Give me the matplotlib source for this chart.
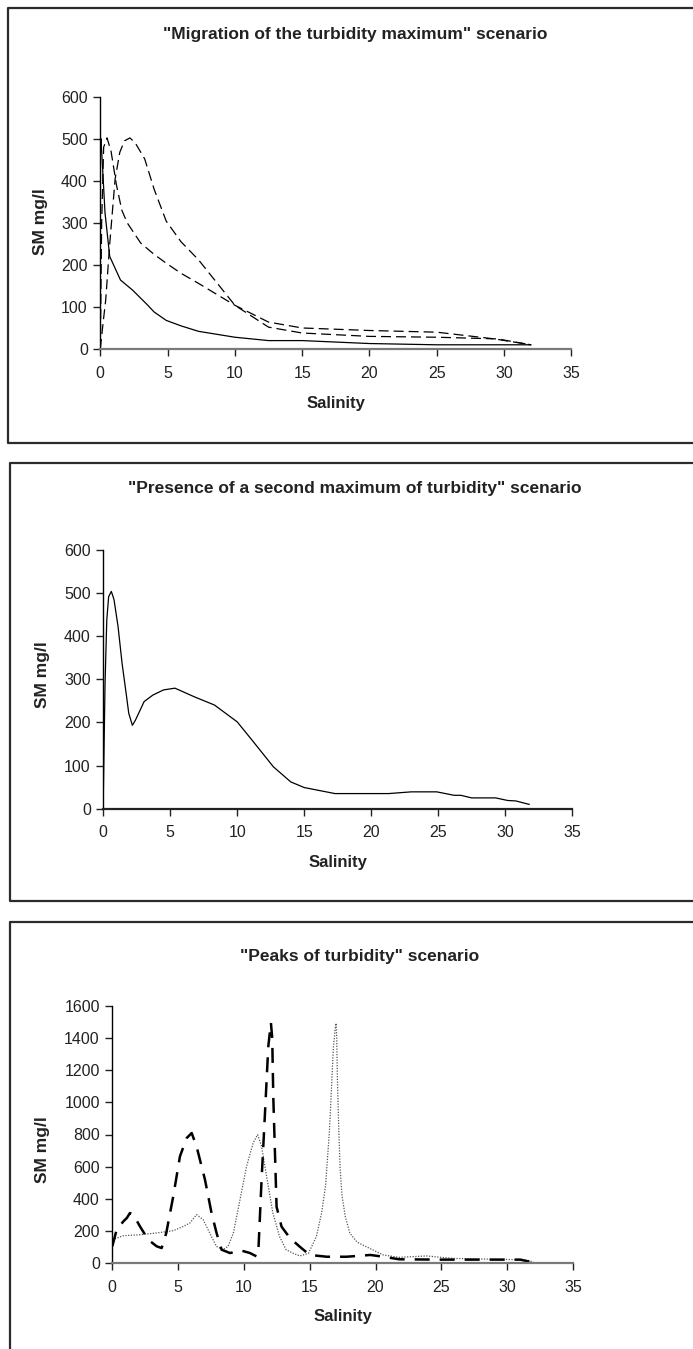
import matplotlib
matplotlib.use("Agg")
import matplotlib.pyplot as plt
from matplotlib.lines import Line2D

plt.rcParams['font.family'] = ['Liberation Sans Narrow', 'Liberation Sans', 'DejaVu Sans']

# ---- Panel 1: migration of the turbidity maximum ----
p1_solid_x = [0, 0.05, 0.35, 0.7, 1.5, 2.4, 3.5, 4.0, 4.9, 6.0, 7.3, 10, 12.5, 15, 20, 25, 30, 32]
p1_solid_y = [480, 500, 324, 220, 164, 140, 105, 88, 68, 55, 42, 28, 20, 20, 13, 10, 10, 10]

p1_dash1_x = [0, 0.1, 0.25, 0.5, 0.8, 1.2, 1.6, 2.0, 3.0, 4.0, 4.9, 6.0, 7.3, 10, 12.5, 15, 20, 25, 29.3, 32]
p1_dash1_y = [0, 300, 480, 502, 470, 390, 330, 300, 252, 225, 204, 180, 156, 104, 64, 50, 44, 40, 24, 10]

p1_dash2_x = [0, 0.2, 0.4, 0.7, 1.1, 1.45, 1.8, 2.2, 2.6, 3.3, 4.0, 4.9, 6.0, 7.3, 10, 12.5, 15, 20, 25, 29.5, 32]
p1_dash2_y = [0, 60, 116, 250, 404, 468, 495, 502, 490, 452, 380, 304, 255, 212, 104, 52, 38, 30, 28, 24, 10]

# ---- Panel 2: presence of a second maximum of turbidity ----
p2_x = [0, 0.13, 0.26, 0.4, 0.6, 0.8, 1.1, 1.4, 1.74, 1.9, 2.17, 2.4, 3.05, 3.7, 4.5, 5.35, 6.8, 8.3,
        10, 11.1, 12.7, 14, 15, 17.3, 21.3, 23, 24.9, 26.2, 26.7, 27.5, 29.3, 30.2, 30.8, 31.8]
p2_y = [27, 290, 437, 491, 503, 484, 422, 337, 259, 221, 193, 205, 248, 263, 275, 279, 259, 240,
        201, 159, 97, 62, 49, 35, 35, 39, 39, 31, 31, 25, 25, 19, 18, 10]

# ---- Panel 3: peaks of turbidity ----
p3_dash_x = [0, 0.33, 0.84, 1.1, 1.34, 1.6, 2.1, 2.73, 3.37, 3.75, 4.1, 4.63, 5.14, 5.65, 6.03, 6.4,
             7.04, 7.54, 7.92, 8.3, 8.94, 9.82, 10.46, 10.96, 11.09, 11.34, 11.6, 11.85, 12.05,
             12.15, 12.23, 12.48, 12.86, 13.5, 14.25, 15.0, 16.3, 17.8, 19.6, 20.6, 21.8, 25, 31, 31.9]
p3_dash_y = [104, 207, 259, 280, 311, 301, 228, 145, 104, 93, 187, 415, 664, 778, 809, 726,
             519, 311, 187, 83, 62, 77, 62, 41, 62, 517, 934, 1347, 1496,
             1400, 1035, 350, 226, 155, 101, 50, 39, 39, 50, 39, 23, 21, 21, 4]

p3_dot_x = [0, 0.84, 2.1, 3.37, 4.63, 5.4, 5.9, 6.4, 6.9, 7.4, 7.9, 8.4, 8.8, 9.2, 9.7, 10.2, 10.7,
            11.04, 11.34, 11.72, 12.2, 12.7, 13.2, 13.75, 14.25, 14.9, 15.5, 15.9, 16.2, 16.5, 16.8,
            16.95, 17.0, 17.05, 17.1, 17.2, 17.3, 17.45, 17.7, 18.05, 18.6, 19.3, 20.6, 21.8, 23.9,
            25, 26, 30, 31.5, 32]
p3_dot_y = [145, 170, 176, 187, 201, 228, 249, 301, 270, 187, 104, 83, 104, 187, 394, 602, 747,
            799, 726, 540, 311, 166, 83, 60, 44, 60, 164, 311, 480, 828, 1347,
            1470, 1492, 1400, 1150, 850, 600, 420, 290, 185, 130, 101, 50, 35, 44,
            35, 28, 22, 18, 5]

titles = ['"Migration of the turbidity maximum" scenario',
          '"Presence of a second maximum of turbidity" scenario',
          '"Peaks of turbidity" scenario']
x_label = 'Salinity'
y_label = 'SM mg/l'
x_ticks = [0, 5, 10, 15, 20, 25, 30, 35]

W, H = 693, 1349
fig = plt.figure(figsize=(W / 100, H / 100), dpi=100)


def px_box(left, top, right, bottom):
    return [left / W, 1 - bottom / H, (right - left) / W, (bottom - top) / H]


def frame(left, top, right, bottom, draw_bottom=True):
    kw = dict(color='#2b2b2b', lw=1.6, transform=fig.transFigure)
    xs = [right / W, left / W, left / W]
    ys = [1 - top / H, 1 - top / H, 1 - bottom / H]
    if draw_bottom:
        xs.append(right / W)
        ys.append(1 - bottom / H)
    fig.add_artist(Line2D(xs, ys, **kw))


def style_axes(ax, ymax, ystep, xcolor):
    ax.set_xlim(0, 35)
    ax.set_ylim(0, ymax)
    ax.set_xticks(x_ticks)
    ax.set_yticks(range(0, ymax + 1, ystep))
    for s in ('top', 'right'):
        ax.spines[s].set_visible(False)
    ax.spines['left'].set_color('black')
    ax.spines['left'].set_linewidth(1.0)
    ax.spines['bottom'].set_color(xcolor)
    ax.spines['bottom'].set_linewidth(1.6)
    ax.tick_params(axis='both', direction='out', length=5, width=1.0, colors='#222222',
                   labelsize=11.5, pad=4)
    ax.tick_params(axis='x', pad=7)
    ax.patch.set_visible(False)


# Panel frames
frame(8, 8, 700, 443)
frame(10, 463, 700, 901)
frame(10, 922, 700, 1400, draw_bottom=False)

# Panel 1
ax1 = fig.add_axes(px_box(100.3, 96.7, 571.3, 349))
ax1.plot(p1_solid_x, p1_solid_y, color='black', lw=0.9)
ax1.plot(p1_dash1_x, p1_dash1_y, color='black', lw=0.9, dashes=(8, 4))
ax1.plot(p1_dash2_x, p1_dash2_y, color='black', lw=0.9, dashes=(8, 4))
style_axes(ax1, 600, 100, '#7a7a7a')

# Panel 2
ax2 = fig.add_axes(px_box(103.3, 549.5, 572, 808.7))
ax2.plot(p2_x, p2_y, color='black', lw=0.9)
style_axes(ax2, 600, 100, '#222222')

# Panel 3
ax3 = fig.add_axes(px_box(112.3, 1006, 573, 1263))
ax3.plot(p3_dot_x, p3_dot_y, color='#555555', lw=0.9, dashes=(1, 1.2))
ax3.plot(p3_dash_x, p3_dash_y, color='black', lw=1.8, dashes=(6, 4))
style_axes(ax3, 1600, 200, '#7a7a7a')

# Titles and axis labels placed in figure pixels
title_pos = [(355, 34), (355, 489), (360, 957)]
xlabel_pos = [(336, 403), (338, 863), (343, 1317)]
ylabel_pos = [(40, 222), (43, 675), (43, 1150)]
for i in range(3):
    tx, ty = title_pos[i]
    fig.text(tx / W, 1 - ty / H, titles[i], ha='center', va='center',
             fontsize=12.5, fontweight='bold', color='#222222')
    lx, ly = xlabel_pos[i]
    fig.text(lx / W, 1 - ly / H, x_label, ha='center', va='center',
             fontsize=12, fontweight='bold', color='#222222')
    yx, yy = ylabel_pos[i]
    fig.text(yx / W, 1 - yy / H, y_label, ha='center', va='center', rotation=90,
             fontsize=12.5, fontweight='bold', color='#222222')

fig.savefig('out.png', dpi=100, facecolor='white')
